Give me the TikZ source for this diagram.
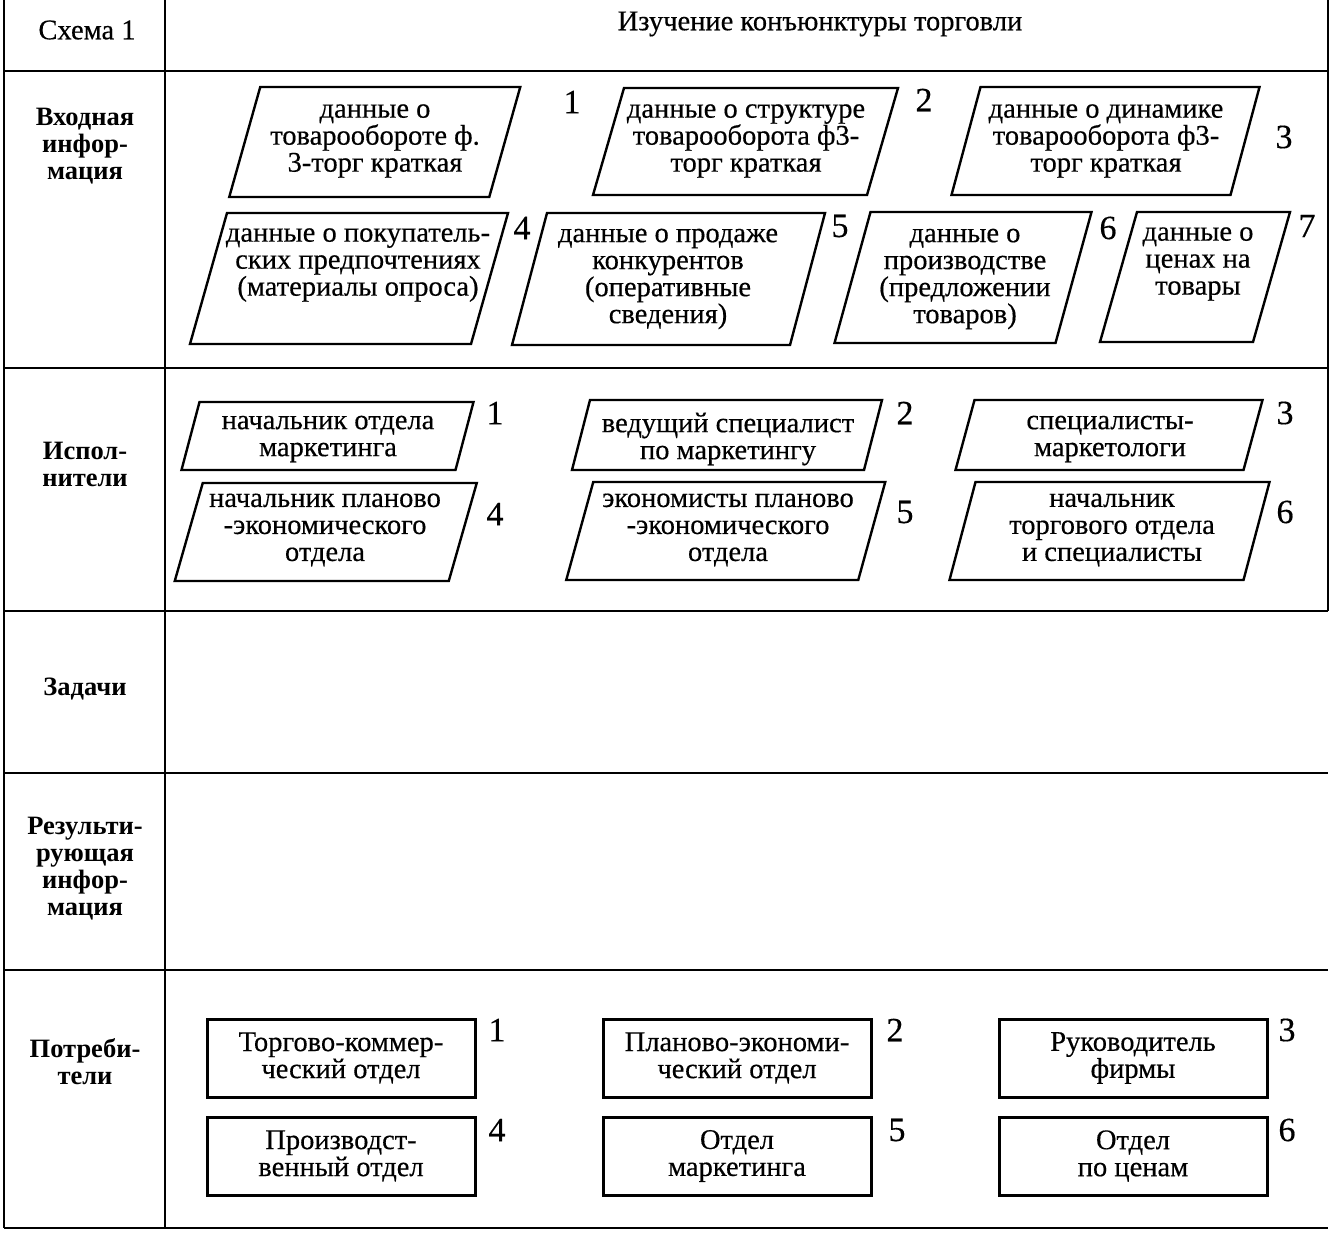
\documentclass[tikz,border=0pt]{standalone}
\usepackage{fontspec}
\setmainfont{Liberation Serif}
\newcommand\boxfont{\fontsize{28.5}{27}\selectfont\addfontfeature{FakeBold=0.4}}
\tikzset{
  tline/.style={line width=2.6pt},
  pline/.style={line width=2.4pt, line join=miter},
  cbox/.style={draw, line width=3pt, minimum width=268pt, minimum height=78pt, inner sep=0pt, align=center, font=\boxfont},
  txt/.style={align=center, inner sep=0pt, font=\boxfont},
  lbl/.style={align=center, inner sep=0pt, font=\fontsize{26.5}{27}\selectfont\bfseries},
  num/.style={inner sep=0pt, font=\fontsize{34}{34}\selectfont\addfontfeature{FakeBold=0.4}},
}
\newcommand\pgram[6]{%
  \coordinate (#1) at (#2,#3);
  \draw[pline] ({#2-#4/2-#6/2},{#3+#5/2}) -- ({#2+#4/2-#6/2},{#3+#5/2}) -- ({#2+#4/2+#6/2},{#3-#5/2}) -- ({#2-#4/2+#6/2},{#3-#5/2}) -- cycle;}
\begin{document}
\begin{tikzpicture}[x=1pt,y=-1pt]
\useasboundingbox (0,0) rectangle (1332,1236);
% table
\coordinate (tl) at (4,0);
\coordinate (dl) at (165,0);
\coordinate (tr) at (1328,0);
\coordinate (bl) at (4,1228);
\coordinate (db) at (165,1228);
\coordinate (rb) at (1328,611);
\draw[tline] (tl) -- (bl);
\draw[tline] (dl) -- (db);
\draw[tline] (tr) -- (rb);
\foreach \yy in {71,368,611,773,970,1228} \draw[tline] (4,\yy) -- (1328,\yy);
% header
\node[txt] (schema) at (87,30) {Схема 1};
\node[txt] (title) at (820,24) {Изучение конъюнктуры торговли};
% row labels
\node[lbl] (r1) at (85,146) {Входная\\инфор-\\мация};
\node[lbl] (r2) at (85,464) {Испол-\\нители};
\node[lbl] (r3) at (85,689) {Задачи};
\node[lbl] (r4) at (85,869) {Результи-\\рующая\\инфор-\\мация};
\node[lbl] (r5) at (85,1062) {Потреби-\\тели};
% input information
\pgram{p1}{374.75}{142}{260}{110}{31}
\pgram{p2}{745.5}{141.5}{274}{107}{31}
\pgram{p3}{1105.5}{141}{279}{108}{29}
\pgram{p4}{349}{278.5}{281}{131}{37}
\pgram{p5}{668.5}{279}{278}{132}{35}
\pgram{p6}{963}{277.5}{221}{131}{36}
\pgram{p7}{1195}{277}{153}{130}{37}
\node[txt] (p1t) at (375,141) {данные о\\товарообороте ф.\\3-торг краткая};
\node[txt] (p2t) at (746,141) {данные о структуре\\товарооборота ф3-\\торг краткая};
\node[txt] (p3t) at (1106,141) {данные о динамике\\товарооборота ф3-\\торг краткая};
\node[txt] (p4t) at (358,265) {данные о покупатель-\\ских предпочтениях\\(материалы опроса)};
\node[txt] (p5t) at (668,279) {данные о продаже\\конкурентов\\(оперативные\\сведения)};
\node[txt] (p6t) at (965,279) {данные о\\производстве\\(предложении\\товаров)};
\node[txt] (p7t) at (1198,264) {данные о\\ценах на\\товары};
\node[num] (pn1) at (572,102) {1};
\node[num] (pn2) at (924,100) {2};
\node[num] (pn3) at (1284,137) {3};
\node[num] (pn4) at (522,228) {4};
\node[num] (pn5) at (840,226) {5};
\node[num] (pn6) at (1108,228) {6};
\node[num] (pn7) at (1307,226) {7};
% executors
\pgram{e1}{327.5}{436}{274}{68}{18}
\pgram{e2}{727}{435}{292}{70}{18}
\pgram{e3}{1109}{435}{288}{70}{19}
\pgram{e4}{325.75}{532}{274}{98}{28}
\pgram{e5}{725.75}{531}{292}{98}{27}
\pgram{e6}{1109.5}{531}{294}{98}{26}
\node[txt] (e1t) at (328,439) {начальник отдела\\маркетинга};
\node[txt] (e2t) at (728,439) {ведущий специалист\\по маркетингу};
\node[txt] (e3t) at (1110,439) {специалисты-\\маркетологи};
\node[txt] (e4t) at (325,530) {начальник планово\\-экономического\\отдела};
\node[txt] (e5t) at (728,530) {экономисты планово\\-экономического\\отдела};
\node[txt] (e6t) at (1112,530) {начальник\\торгового отдела\\и специалисты};
\node[num] (en1) at (495,413) {1};
\node[num] (en2) at (905,413) {2};
\node[num] (en3) at (1285,413) {3};
\node[num] (en4) at (495,514) {4};
\node[num] (en5) at (905,512) {5};
\node[num] (en6) at (1285,512) {6};
% consumers
\node[cbox] (c1) at (341,1058) {Торгово-коммер-\\ческий отдел};
\node[cbox] (c2) at (737,1058) {Планово-экономи-\\ческий отдел};
\node[cbox] (c3) at (1133,1058) {Руководитель\\фирмы};
\node[cbox] (c4) at (341,1156) {Производст-\\венный отдел};
\node[cbox] (c5) at (737,1156) {Отдел\\маркетинга};
\node[cbox] (c6) at (1133,1156) {Отдел\\по ценам};
\node[num] (cn1) at (497,1030) {1};
\node[num] (cn2) at (895,1030) {2};
\node[num] (cn3) at (1287,1030) {3};
\node[num] (cn4) at (497,1130) {4};
\node[num] (cn5) at (897,1130) {5};
\node[num] (cn6) at (1287,1130) {6};
\end{tikzpicture}
\end{document}
